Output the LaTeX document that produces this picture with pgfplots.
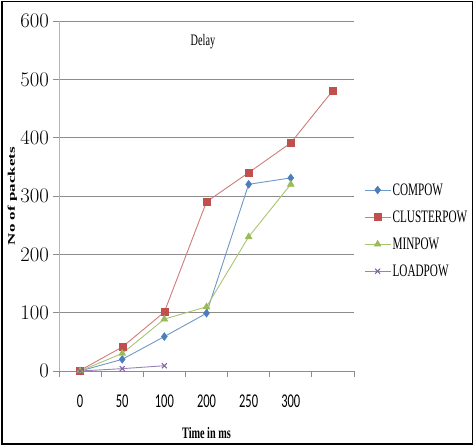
\documentclass[border=0pt]{standalone}
\usepackage{pgfplots}
\pgfplotsset{compat=1.18}
\usepackage{fontspec}
\usepackage{graphicx}
\setmainfont{Liberation Serif}
\newfontfamily\tickfont[FakeStretch=0.64]{Carlito}
\newfontfamily\legfont[FakeStretch=0.64]{Liberation Serif}
\definecolor{cblue}{HTML}{4A7EBB}
\definecolor{cred}{HTML}{C0504D}
\definecolor{cgreen}{HTML}{9BBB59}
\definecolor{cpurple}{HTML}{8064A2}
\definecolor{gridc}{HTML}{8C8C8C}
\definecolor{axc}{HTML}{B4B4B4}
\begin{document}
\begin{tikzpicture}
\useasboundingbox (0pt,0pt) rectangle (475pt,446pt);
\draw[line width=1.5pt] (2pt,2pt) rectangle (472.5pt,444.5pt);
\begin{axis}[
  at={(59pt,75pt)}, anchor=south west,
  scale only axis, width=295pt, height=350pt,
  xmin=-0.5, xmax=6.5, ymin=0, ymax=600,
  axis x line*=bottom, axis y line*=left,
  x axis line style={-, draw=gridc, line width=0.8pt},
  y axis line style={-, draw=axc, line width=0.8pt},
  xtick pos=bottom, ytick pos=left,
  tick align=outside, major tick length=6pt,
  tick style={draw=gridc, line width=0.8pt},
  xtick={-0.5,0.5,...,6.5}, xticklabels={},
  extra x ticks={0,1,2,3,4,5},
  extra x tick labels={0,50,100,200,250,300},
  extra x tick style={major tick length=0pt, tick style={draw=none},
    xticklabel style={yshift=-24pt}},
  ytick={0,100,...,600},
  ymajorgrids, grid style={draw=gridc, line width=0.8pt},
  ticklabel style={font=\tickfont\fontsize{19.5pt}{22pt}\selectfont},
  yticklabel style={inner sep=0pt, xshift=-4pt},
  xticklabel style={inner sep=0pt},
  xlabel={\fontsize{16pt}{19pt}\legfont\bfseries Time in ms},
  xlabel style={at={(axis description cs:0.5,-0.177)}, anchor=center},
  ylabel={\scalebox{1}[0.6]{\fontsize{17pt}{20pt}\selectfont\bfseries No of packets}},
  ylabel style={at={(axis description cs:-0.158,0.5)}, anchor=center, rotate=0},
  legend style={at={(1.034,0.401)}, anchor=west, draw=none, fill=none,
    inner sep=0pt, row sep=11pt,
    font=\legfont\fontsize{17.5pt}{20pt}\selectfont,
    nodes={inner sep=1.5pt}},
  legend cell align=left,
  legend image code/.code={\draw[mark repeat=2,mark phase=2] plot coordinates {(0pt,0pt)(13pt,0pt)(26pt,0pt)};},
  clip=false,
]
\addplot[draw=cblue!80!white, line width=0.9pt, mark=diamond*, mark size=4pt,
  mark options={fill=cblue, draw=cblue, line width=0.4pt}]
  coordinates {(0,0) (1,20) (2,59) (3,99) (4,320) (5,331)};
\addlegendentry{COMPOW}
\addplot[draw=cred!75!white, line width=0.9pt, mark=square*, mark size=3.5pt,
  mark options={fill=cred, draw=cred, line width=0.4pt}]
  coordinates {(0,1) (1,41) (2,101) (3,290) (4,340) (5,391) (6,481)};
\addlegendentry{CLUSTERPOW}
\addplot[draw=cgreen!85!white, line width=0.9pt, mark=triangle*, mark size=4pt,
  mark options={fill=cgreen, draw=cgreen, line width=0.4pt}]
  coordinates {(0,0) (1,30) (2,89) (3,110) (4,230) (5,320)};
\addlegendentry{MINPOW}
\addplot[draw=cpurple!80!white, line width=0.9pt, mark=x, mark size=3.5pt,
  mark options={draw=cpurple, line width=1pt}]
  coordinates {(0,0) (1,4) (2,9)};
\addlegendentry{LOADPOW}
\node[font=\legfont\fontsize{16pt}{19pt}\selectfont] at (rel axis cs:0.488,0.94) {Delay};
\end{axis}
\end{tikzpicture}
\end{document}
